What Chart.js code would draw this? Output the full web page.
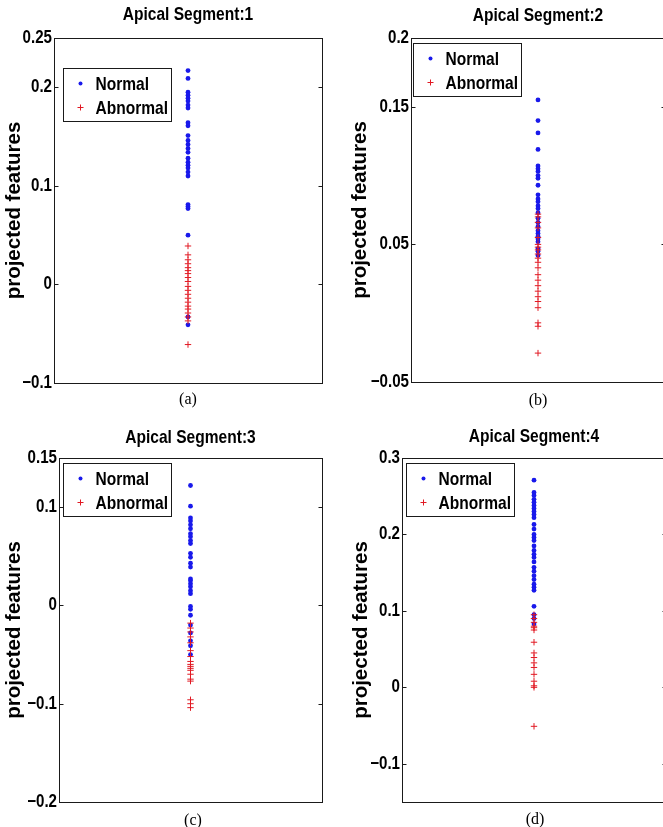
<!DOCTYPE html>
<html>
<head>
<meta charset="utf-8">
<title>Apical segments</title>
<script src="https://cdn.jsdelivr.net/npm/chart.js@4.4.1/dist/chart.umd.min.js"></script>
<style>
  html, body { margin: 0; padding: 0; background: #fff; overflow: hidden; }
  #fig { position: relative; width: 663px; height: 827px; overflow: hidden; background: #fff; }
  #fig canvas { position: absolute; }
  .cap { position: absolute; transform: translate(-50%, -50%); font-family: "Liberation Serif", "Times New Roman", serif; font-size: 16px; color: #000; }
</style>
</head>
<body>
<div id="fig">
  <canvas id="chartA"></canvas>
  <canvas id="chartB"></canvas>
  <canvas id="chartC"></canvas>
  <canvas id="chartD"></canvas>
  <div class="cap" style="left:188px; top:399px">(a)</div>
  <div class="cap" style="left:538px; top:400px">(b)</div>
  <div class="cap" style="left:193px; top:820px">(c)</div>
  <div class="cap" style="left:535px; top:819px">(d)</div>
</div>
<script>
// --- data: projected feature of every subject, per apical segment ---
const seriesLabels = ["Normal", "Abnormal"];
const titles = ["Apical Segment:1", "Apical Segment:2", "Apical Segment:3", "Apical Segment:4"];
const yLabel = "projected features";
const stripX = 0; // all subjects sit on the same projection line

const normalA = [0.217, 0.209, 0.195, 0.192, 0.189, 0.186, 0.182, 0.179, 0.164, 0.161, 0.151, 0.146,
  0.142, 0.138, 0.134, 0.128, 0.124, 0.121, 0.118, 0.114, 0.110, 0.081, 0.079, 0.077, 0.050, -0.033, -0.041];
const abnormalA = [0.039, 0.030, 0.025, 0.021, 0.017, 0.014, 0.011, 0.007, 0.003, -0.002, -0.006, -0.010,
  -0.014, -0.018, -0.022, -0.025, -0.029, -0.033, -0.037, -0.061];

const normalB = [0.155, 0.140, 0.131, 0.119, 0.107, 0.105, 0.103, 0.100, 0.098, 0.093, 0.086, 0.083, 0.081,
  0.078, 0.076, 0.073, 0.069, 0.066, 0.063, 0.060, 0.058, 0.056, 0.054, 0.052, 0.047, 0.045, 0.042];
const abnormalB = [0.072, 0.070, 0.066, 0.062, 0.055, 0.050, 0.048, 0.046, 0.043, 0.040, 0.037, 0.033,
  0.028, 0.024, 0.020, 0.016, 0.012, 0.0085, 0.004, -0.007, -0.0095, -0.029];

const normalC = [0.122, 0.101, 0.089, 0.086, 0.082, 0.078, 0.073, 0.070, 0.066, 0.063, 0.053, 0.049, 0.043,
  0.039, 0.027, 0.025, 0.022, 0.019, 0.015, 0.012, -0.001, -0.004, -0.010, -0.020, -0.028, -0.036, -0.041, -0.050];
const abnormalC = [-0.018, -0.023, -0.027, -0.032, -0.038, -0.046, -0.052, -0.057, -0.060, -0.062, -0.064,
  -0.066, -0.070, -0.075, -0.077, -0.096, -0.100, -0.104];

const normalD = [0.271, 0.255, 0.251, 0.246, 0.242, 0.238, 0.234, 0.230, 0.226, 0.222, 0.213, 0.207, 0.200,
  0.196, 0.192, 0.185, 0.179, 0.174, 0.170, 0.164, 0.157, 0.152, 0.146, 0.141, 0.135, 0.131, 0.127, 0.106,
  0.095, 0.090, 0.083];
const abnormalD = [0.095, 0.090, 0.085, 0.080, 0.078, 0.075, 0.059, 0.045, 0.039, 0.032, 0.026, 0.017,
  0.008, 0.002, 0.000, -0.051];

// axis limits and tick marks
const rangeA = [-0.1, 0.25], ticksA = [-0.1, 0, 0.1, 0.2, 0.25];
const rangeB = [-0.05, 0.2], ticksB = [-0.05, 0.05, 0.15, 0.2];
const rangeC = [-0.2, 0.15], ticksC = [-0.2, -0.1, 0, 0.1, 0.15];
const rangeD = [-0.15, 0.3], ticksD = [-0.1, 0, 0.1, 0.2, 0.3];

// --- styling ---
const sansFont = '"Liberation Sans", Arial, Helvetica, sans-serif';
const textSqueeze = 0.84; // no condensed helvetica here, so upright text is narrowed by hand
const blue = "rgb(25, 25, 235)";
const red = "rgb(225, 25, 35)";
const ink = "#1a1a1a";

// narrow every horizontal label around its anchor point; rotated labels are left alone
const squeezeText = {
  id: "squeezeText",
  beforeInit(chart) {
    const ctx = chart.ctx;
    const fill = ctx.fillText.bind(ctx);
    ctx.fillText = (text, x, y, maxWidth) => {
      if (ctx.getTransform().b !== 0) {
        return maxWidth === undefined ? fill(text, x, y) : fill(text, x, y, maxWidth);
      }
      ctx.save();
      ctx.translate(x, y);
      ctx.scale(textSqueeze, 1);
      if (maxWidth === undefined) fill(text, 0, 0);
      else fill(text, 0, 0, maxWidth / textSqueeze);
      ctx.restore();
    };
  }
};

// axes frame with small inward ticks on both sides (matlab look)
const axesBox = {
  id: "axesBox",
  afterDatasetsDraw(chart) {
    const { ctx, chartArea: a, scales: { y } } = chart;
    const l = Math.round(a.left) + 0.5, r = Math.round(a.right) + 0.5;
    const t = Math.round(a.top) + 0.5, b = Math.round(a.bottom) + 0.5;
    ctx.save();
    ctx.strokeStyle = ink;
    ctx.lineWidth = 1;
    ctx.strokeRect(l, t, r - l, b - t);
    ctx.beginPath();
    y.ticks.forEach(tk => {
      if (tk.value <= y.min || tk.value >= y.max) return;
      const py = Math.round(y.getPixelForValue(tk.value)) + 0.5;
      ctx.moveTo(l, py); ctx.lineTo(l + 4, py);
      ctx.moveTo(r, py); ctx.lineTo(r - 4, py);
    });
    ctx.stroke();
    ctx.restore();
  }
};

// boxed legend inside the axes
const boxLegend = {
  id: "boxLegend",
  afterDraw(chart, args, opts) {
    const { ctx, chartArea: a } = chart;
    const x0 = Math.round(a.left + opts.dx) + 0.5;
    const y0 = Math.round(a.top + opts.dy) + 0.5;
    const sets = chart.data.datasets;
    ctx.save();
    ctx.font = "bold 18.5px " + sansFont;
    const tw = Math.max(...sets.map(d => ctx.measureText(d.label).width)) * textSqueeze;
    const w = Math.round(32 + tw + 3), h = 53;
    ctx.fillStyle = "#fff";
    ctx.fillRect(x0, y0, w, h);
    ctx.strokeStyle = ink;
    ctx.lineWidth = 1;
    ctx.strokeRect(x0, y0, w, h);
    sets.forEach((d, i) => {
      const cy = y0 + 15 + i * 24;
      const cx = x0 + 17;
      if (d.pointStyle === "cross") {
        ctx.strokeStyle = d.borderColor;
        ctx.lineWidth = 1;
        ctx.beginPath();
        ctx.moveTo(cx - 3, cy); ctx.lineTo(cx + 3, cy);
        ctx.moveTo(cx, cy - 3); ctx.lineTo(cx, cy + 3);
        ctx.stroke();
      } else {
        ctx.fillStyle = d.backgroundColor;
        ctx.beginPath();
        ctx.arc(cx, cy, 2, 0, Math.PI * 2);
        ctx.fill();
      }
      ctx.fillStyle = "#000";
      ctx.textBaseline = "middle";
      ctx.textAlign = "left";
      ctx.fillText(d.label, x0 + 32, cy + 1);
    });
    ctx.restore();
  }
};

// where each panel sits on the page
const panels = [
  { id: "chartA", title: titles[0], normal: normalA, abnormal: abnormalA, range: rangeA, ticks: ticksA,
    canvas: { left: 0, top: 0, width: 331, height: 400 }, area: { left: 54, top: 38, right: 322, bottom: 383 },
    titleGap: 23, legend: { dx: 9, dy: 30 } },
  { id: "chartB", title: titles[1], normal: normalB, abnormal: abnormalB, range: rangeB, ticks: ticksB,
    canvas: { left: 346, top: 0, width: 324, height: 400 }, area: { left: 411, top: 38, right: 667, bottom: 382 },
    titleGap: 22, legend: { dx: 2, dy: 5 } },
  { id: "chartC", title: titles[2], normal: normalC, abnormal: abnormalC, range: rangeC, ticks: ticksC,
    canvas: { left: 0, top: 420, width: 331, height: 400 }, area: { left: 59, top: 458, right: 322, bottom: 802 },
    titleGap: 20, legend: { dx: 4, dy: 5 } },
  { id: "chartD", title: titles[3], normal: normalD, abnormal: abnormalD, range: rangeD, ticks: ticksD,
    canvas: { left: 347, top: 420, width: 324, height: 400 }, area: { left: 402, top: 458, right: 668, bottom: 802 },
    titleGap: 21, legend: { dx: 4, dy: 5 } }
];

panels.forEach(p => {
  const cv = p.canvas, ar = p.area;
  const el = document.getElementById(p.id);
  el.width = cv.width;
  el.height = cv.height;
  el.style.left = cv.left + "px";
  el.style.top = cv.top + "px";

  const titleLine = 18.5 * 1.2;
  const titleTop = (ar.top - cv.top) - p.titleGap - titleLine / 2;
  const titleBottom = (ar.top - cv.top) - titleTop - titleLine;

  new Chart(el, {
    type: "scatter",
    data: {
      datasets: [
        {
          label: seriesLabels[0],
          data: p.normal.map(v => ({ x: stripX, y: v })),
          pointStyle: "circle",
          pointRadius: 2.4,
          backgroundColor: blue,
          borderColor: blue,
          borderWidth: 0,
          order: 1
        },
        {
          label: seriesLabels[1],
          data: p.abnormal.map(v => ({ x: stripX, y: v })),
          pointStyle: "cross",
          pointRadius: 3.2,
          backgroundColor: red,
          borderColor: red,
          borderWidth: 1,
          order: 0
        }
      ]
    },
    options: {
      responsive: false,
      animation: false,
      events: [],
      layout: {
        padding: { left: 0, top: 0, right: cv.left + cv.width - ar.right, bottom: cv.top + cv.height - ar.bottom }
      },
      plugins: {
        legend: { display: false },
        tooltip: { enabled: false },
        title: {
          display: true,
          text: p.title,
          fullSize: false,
          color: "#000",
          font: { family: sansFont, size: 18.5, weight: "bold", lineHeight: 1.2 },
          padding: { top: titleTop, bottom: titleBottom }
        },
        boxLegend: p.legend
      },
      scales: {
        x: { type: "linear", display: false, min: -1, max: 1 },
        y: {
          type: "linear",
          min: p.range[0],
          max: p.range[1],
          afterFit: s => { s.width = ar.left - cv.left; },
          afterBuildTicks: s => { s.ticks = p.ticks.map(v => ({ value: v })); },
          grid: { display: false, drawTicks: false },
          border: { display: false },
          ticks: {
            color: "#000",
            padding: 2,
            autoSkip: false,
            font: { family: sansFont, size: 18, weight: "bold" },
            callback: v => String(v).replace("-", "\u2212")
          },
          title: {
            display: true,
            text: yLabel,
            color: "#000",
            font: { family: sansFont, size: 20.5, weight: "bold" },
            padding: { top: 2, bottom: 0 }
          }
        }
      }
    },
    plugins: [squeezeText, axesBox, boxLegend]
  });
});
</script>
</body>
</html>
